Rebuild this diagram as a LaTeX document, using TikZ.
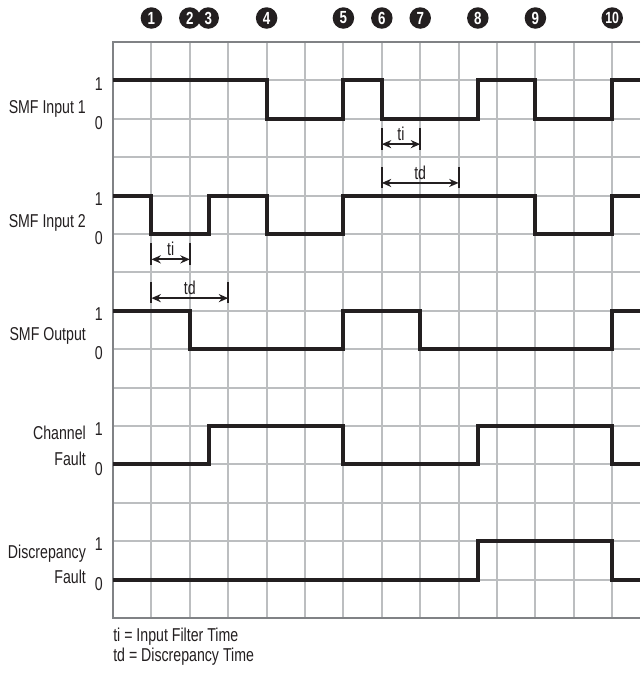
\documentclass[tikz,border=0pt]{standalone}
\usepackage{fontspec}
\setmainfont{Liberation Sans}[FakeStretch=0.76]
\usetikzlibrary{arrows.meta}
\definecolor{gridgray}{HTML}{BCBEC0}
\definecolor{bordergray}{HTML}{808285}
\definecolor{sigblack}{HTML}{231F20}
\begin{document}
\begin{tikzpicture}[x=1cm,y=1cm,
  gridline/.style={draw=gridgray,line width=1.5pt},
  frame/.style={draw=bordergray,line width=1.6pt},
  sig/.style={draw=sigblack,line width=3pt,line join=miter},
  lbl/.style={font=\fontsize{13.8}{16}\selectfont,text=sigblack,inner sep=0pt},
  marker/.style={circle,fill=sigblack,text=white,minimum size=0.56cm,inner sep=0pt,
    font=\bfseries\fontsize{13}{13}\selectfont},
  bar/.style={draw=sigblack,line width=1.6pt},
  dim/.style={draw=sigblack,line width=1.5pt,{Stealth[length=7pt,width=6pt]}-{Stealth[length=7pt,width=6pt]}}
]
\useasboundingbox (-2.943,1.094) rectangle (13.724,-16.432);

% grid
\foreach \i in {1,...,13} \draw[gridline] (\i,0) -- (\i,-15);
\foreach \j in {1,...,14} \draw[gridline] (0,-\j) -- (13.724,-\j);
\draw[frame] (13.724,0) -- (0,0) -- (0,-15) -- (13.724,-15);

% event markers
\node[marker] (m1) at (1,0.625) {1};
\node[marker] (m2) at (2,0.625) {2};
\node[marker] (m3) at (2.48,0.625) {3};
\node[marker] (m4) at (4,0.625) {4};
\node[marker] (m5) at (6,0.625) {5};
\node[marker] (m6) at (7,0.625) {6};
\node[marker] (m7) at (8,0.625) {7};
\node[marker] (m8) at (9.5,0.625) {8};
\node[marker] (m9) at (11,0.625) {9};
\node[marker,font=\bfseries\fontsize{12}{12}\selectfont] (m10) at (13,0.625) {10};

% signal names
\node[lbl,anchor=base east] (n1) at (-0.70,-1.86) {SMF Input 1};
\node[lbl,anchor=base east] (n2) at (-0.70,-4.82) {SMF Input 2};
\node[lbl,anchor=base east] (n3) at (-0.70,-7.78) {SMF Output};
\node[lbl,anchor=base east] (n4a) at (-0.70,-10.36) {Channel};
\node[lbl,anchor=base east] (n4b) at (-0.70,-11.02) {Fault};
\node[lbl,anchor=base east] (n5a) at (-0.70,-13.44) {Discrepancy};
\node[lbl,anchor=base east] (n5b) at (-0.70,-14.09) {Fault};

% level numbers
\foreach \h/\n in {1/a,4/b,7/c,10/d,13/e}{
  \node[lbl,anchor=base east] (one\n) at (-0.26,-\h-0.25) {1};
  \pgfmathsetmacro{\lo}{\h+1}
  \node[lbl,anchor=base east] (zero\n) at (-0.26,-\lo-0.28) {0};
}

% waveforms
\draw[sig] (0,-1) -- (4,-1) -- (4,-2) -- (6,-2) -- (6,-1) -- (7,-1) -- (7,-2) -- (9.5,-2) -- (9.5,-1) -- (11,-1) -- (11,-2) -- (13,-2) -- (13,-1) -- (13.724,-1);
\draw[sig] (0,-4) -- (1,-4) -- (1,-5) -- (2.5,-5) -- (2.5,-4) -- (4,-4) -- (4,-5) -- (6,-5) -- (6,-4) -- (11,-4) -- (11,-5) -- (13,-5) -- (13,-4) -- (13.724,-4);
\draw[sig] (0,-7) -- (2,-7) -- (2,-8) -- (6,-8) -- (6,-7) -- (8,-7) -- (8,-8) -- (13,-8) -- (13,-7) -- (13.724,-7);
\draw[sig] (0,-11) -- (2.5,-11) -- (2.5,-10) -- (6,-10) -- (6,-11) -- (9.5,-11) -- (9.5,-10) -- (13,-10) -- (13,-11) -- (13.724,-11);
\draw[sig] (0,-14) -- (9.5,-14) -- (9.5,-13) -- (13,-13) -- (13,-14) -- (13.724,-14);

% dimension marks (input 1)
\coordinate (p1t) at (7,-2.24); \coordinate (p1b) at (7,-2.81);
\coordinate (p2t) at (8,-2.24); \coordinate (p2b) at (8,-2.81);
\coordinate (p1a) at (7,-2.66); \coordinate (p2a) at (8,-2.66);
\draw[bar] (p1t) -- (p1b); \draw[bar] (p2t) -- (p2b);
\draw[dim] (p1a) -- (p2a);
\node[lbl,anchor=base] (ti1) at (7.5,-2.56) {ti};
\coordinate (q1t) at (7,-3.26); \coordinate (q1b) at (7,-3.80);
\coordinate (q2t) at (9,-3.26); \coordinate (q2b) at (9,-3.80);
\coordinate (q1a) at (7,-3.67); \coordinate (q2a) at (9,-3.67);
\draw[bar] (q1t) -- (q1b); \draw[bar] (q2t) -- (q2b);
\draw[dim] (q1a) -- (q2a);
\node[lbl,anchor=base] (td1) at (8,-3.58) {td};

% dimension marks (input 2)
\coordinate (r1t) at (1,-5.24); \coordinate (r1b) at (1,-5.81);
\coordinate (r2t) at (2,-5.24); \coordinate (r2b) at (2,-5.81);
\coordinate (r1a) at (1,-5.66); \coordinate (r2a) at (2,-5.66);
\draw[bar] (r1t) -- (r1b); \draw[bar] (r2t) -- (r2b);
\draw[dim] (r1a) -- (r2a);
\node[lbl,anchor=base] (ti2) at (1.5,-5.56) {ti};
\coordinate (s1t) at (1,-6.26); \coordinate (s1b) at (1,-6.80);
\coordinate (s2t) at (3,-6.26); \coordinate (s2b) at (3,-6.80);
\coordinate (s1a) at (1,-6.67); \coordinate (s2a) at (3,-6.67);
\draw[bar] (s1t) -- (s1b); \draw[bar] (s2t) -- (s2b);
\draw[dim] (s1a) -- (s2a);
\node[lbl,anchor=base] (td2) at (2,-6.58) {td};

% legend
\node[lbl,anchor=base west] (leg1) at (0,-15.62) {ti = Input Filter Time};
\node[lbl,anchor=base west] (leg2) at (0,-16.13) {td = Discrepancy Time};
\end{tikzpicture}
\end{document}
